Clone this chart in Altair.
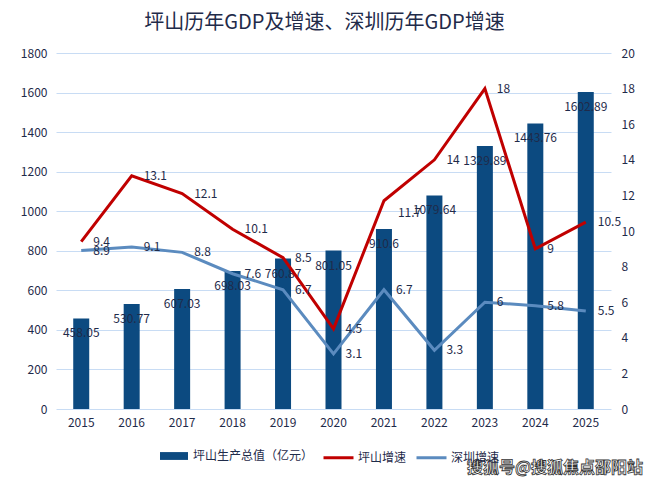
import altair as alt
import pandas as pd

years = ["2015", "2016", "2017", "2018", "2019", "2020", "2021", "2022", "2023", "2024", "2025"]
gdp = [458.05, 530.77, 607.03, 698.03, 760.87, 801.05, 910.6, 1079.64, 1329.89, 1443.76, 1602.89]
ps_growth = [9.4, 13.1, 12.1, 10.1, 8.5, 4.5, 11.7, 14, 18, 9, 10.5]
sz_growth = [8.9, 9.1, 8.8, 7.6, 6.7, 3.1, 6.7, 3.3, 6, 5.8, 5.5]

BAR_NAME = "坪山生产总值（亿元）"
PS_NAME = "坪山增速"
SZ_NAME = "深圳增速"
TITLE = "坪山历年GDP及增速、深圳历年GDP增速"
WATERMARK = "搜狐号@搜狐焦点邵阳站"

FONT = "Noto Sans CJK SC"
TXT = "#1f2b4a"

df_bar = pd.DataFrame({"year": years, "value": gdp, "series": BAR_NAME})
df_line = pd.concat([
    pd.DataFrame({"year": years, "rate": ps_growth, "series": PS_NAME}),
    pd.DataFrame({"year": years, "rate": sz_growth, "series": SZ_NAME}),
], ignore_index=True)
df_wm = pd.DataFrame({"t": [WATERMARK]})

x = alt.X("year:N", scale=alt.Scale(paddingInner=0, paddingOuter=0),
          axis=alt.Axis(title=None, labelAngle=0, labelPadding=8, domain=False, ticks=False,
                        grid=False, labelFontSize=12, labelColor=TXT, labelFont=FONT))

y_left = alt.Y("value:Q", scale=alt.Scale(domain=[0, 1800]),
               axis=alt.Axis(title=None, values=list(range(0, 1801, 200)), format="d", domain=False, ticks=False,
                             grid=True, gridColor="#c8dcf4", gridWidth=1, labelPadding=9,
                             labelFontSize=12, labelColor=TXT, labelFont=FONT))
y_right = alt.Y("rate:Q", scale=alt.Scale(domain=[0, 20]),
                axis=alt.Axis(title=None, orient="right", values=list(range(0, 21, 2)), format="d", domain=False,
                              ticks=False, grid=False, labelPadding=10,
                              labelFontSize=12, labelColor=TXT, labelFont=FONT))

bars = alt.Chart(df_bar).mark_bar(size=16).encode(
    x=x, y=y_left,
    color=alt.Color("series:N", scale=alt.Scale(domain=[BAR_NAME], range=["#0c4a80"]),
                    legend=alt.Legend(title=None, orient="none", legendX=104, legendY=389,
                                      symbolType="M-1,-0.28H1V0.28H-1Z", symbolSize=784,
                                      symbolStrokeWidth=0, labelFontSize=12, labelFont=FONT,
                                      labelColor=TXT, labelOffset=5, padding=0)),
)
bar_labels = alt.Chart(df_bar).mark_text(baseline="middle", align="center", dy=15,
                                         fontSize=12, font=FONT, color=TXT).encode(
    x=x, y=y_left, text=alt.Text("value:Q", format="~f"))

lines = alt.Chart(df_line).mark_line(strokeWidth=3).encode(
    x=x, y=y_right,
    stroke=alt.Stroke("series:N", scale=alt.Scale(domain=[PS_NAME, SZ_NAME], range=["#c00000", "#5b8bbf"]),
                      legend=alt.Legend(title=None, orient="none", direction="horizontal",
                                        legendX=266, legendY=388, symbolType="stroke", symbolSize=900,
                                        symbolStrokeWidth=3, labelFontSize=12, labelFont=FONT,
                                        labelColor=TXT, labelOffset=3, columnPadding=3, padding=0)),
    detail="series:N",
)
line_labels = alt.Chart(df_line).transform_filter(
    f"!(datum.series == '{PS_NAME}' && datum.year == '2021')"
).mark_text(align="left", baseline="middle", dx=12, fontSize=12, font=FONT, color=TXT).encode(
    x=x, y=y_right, text=alt.Text("rate:Q", format="~f"))
line_label_moved = alt.Chart(df_line).transform_filter(
    f"datum.series == '{PS_NAME}' && datum.year == '2021'"
).mark_text(align="left", baseline="middle", dx=14, dy=12, fontSize=12, font=FONT, color=TXT).encode(
    x=x, y=y_right, text=alt.Text("rate:Q", format="~f"))

watermark = alt.Chart(df_wm).mark_text(
    align="center", baseline="middle", fontSize=16, fontWeight="bold", font=FONT,
    color="white", stroke="#333333", strokeWidth=0.8
).encode(x=alt.value(499), y=alt.value(415), text="t:N")

left = alt.layer(bars, bar_labels)
right = alt.layer(lines, line_labels, line_label_moved)

chart = alt.layer(left, right, watermark).resolve_scale(y="independent").properties(
    width=555, height=356,
    title=alt.TitleParams(TITLE, fontSize=20, font=FONT, color=TXT, fontWeight="normal",
                          anchor="middle", offset=14, dx=-9),
    autosize=alt.AutoSizeParams(type="none"),
    padding={"left": 48, "top": 45, "right": 33, "bottom": 68},
).configure_view(stroke=None)

chart.save("out.html", embed_options={"renderer": "svg", "actions": False})
